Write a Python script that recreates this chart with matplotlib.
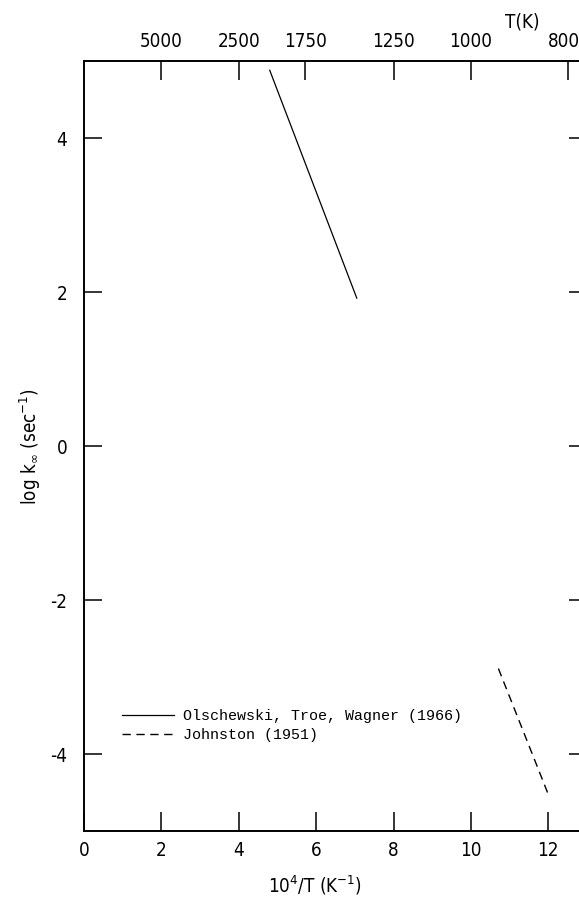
"""Arrhenius plot of the high-pressure limiting rate constant."""

import matplotlib.pyplot as plt
import matplotlib.transforms as mtransforms
import numpy as np

# Rate constant lines, log k_inf against 10^4/T
olschewski_x = [4.80, 7.05]
olschewski_y = [4.88, 1.92]
johnston_x = [10.71, 11.98]
johnston_y = [-2.89, -4.50]

# Temperature scale on the top axis
temperatures = [5000, 2500, 1750, 1250, 1000, 800]

x_ticks = [0, 2, 4, 6, 8, 10, 12]
y_ticks = [-4, -2, 0, 2, 4]

label_font = {'family': 'DejaVu Sans', 'stretch': 'condensed', 'size': 13.5}
plt.rcParams['font.stretch'] = 'condensed'

fig = plt.figure(figsize=(5.79, 9.07), dpi=100)
axes = fig.add_axes([84 / 579, 76 / 907, 503 / 579, 770 / 907])

axes.plot(olschewski_x, olschewski_y, 'k-', lw=0.9,
          label='Olschewski, Troe, Wagner (1966)')
axes.plot(johnston_x, johnston_y, 'k--', lw=1.0, dashes=(6, 4),
          label='Johnston (1951)')

axes.set_xlim(0, 13)
axes.set_ylim(-5, 5)
axes.set_xticks(x_ticks)
axes.set_xticklabels([str(t) for t in x_ticks], fontdict=label_font)
axes.set_yticks(y_ticks)
axes.set_yticklabels([str(t) for t in y_ticks], fontdict=label_font)
axes.tick_params(axis='x', direction='in', length=14, width=1.1, pad=7)
axes.tick_params(axis='y', direction='in', length=13, width=1.1, pad=12,
                 right=True)
for spine in axes.spines.values():
    spine.set_linewidth(1.2)

# Top axis in temperature
top = axes.twiny()
top.set_xlim(axes.get_xlim())
top.set_xticks(1e4 / np.array(temperatures))
top_labels = top.set_xticklabels([str(t) for t in temperatures],
                                 fontdict=label_font)
top.tick_params(axis='x', direction='in', length=14, width=1.1, pad=7)
# keep the last label inside the page edge
shift = mtransforms.ScaledTranslation(-4 / 100, 0, fig.dpi_scale_trans)
top_labels[-1].set_transform(top_labels[-1].get_transform() + shift)
for spine in top.spines.values():
    spine.set_linewidth(1.2)
axes.text(0.871, 1.051, 'T(K)', transform=axes.transAxes, ha='center',
          va='center', fontdict=label_font)

axes.set_xlabel(r'10$^4$/T (K$^{-1}$)', fontdict=label_font)
axes.xaxis.set_label_coords(0.46, -0.055)
axes.set_ylabel(r'log k$_{\infty}$ (sec$^{-1}$)', fontdict=label_font)
axes.yaxis.set_label_coords(-0.082, 0.5)

axes.legend(loc='upper left', bbox_to_anchor=(0.0755, 0.158),
            frameon=False, borderpad=0, borderaxespad=0,
            handlelength=3.5, handletextpad=0.55, labelspacing=0.3,
            prop={'family': 'Liberation Mono', 'size': 10.8})

fig.savefig('out.png', dpi=100)
